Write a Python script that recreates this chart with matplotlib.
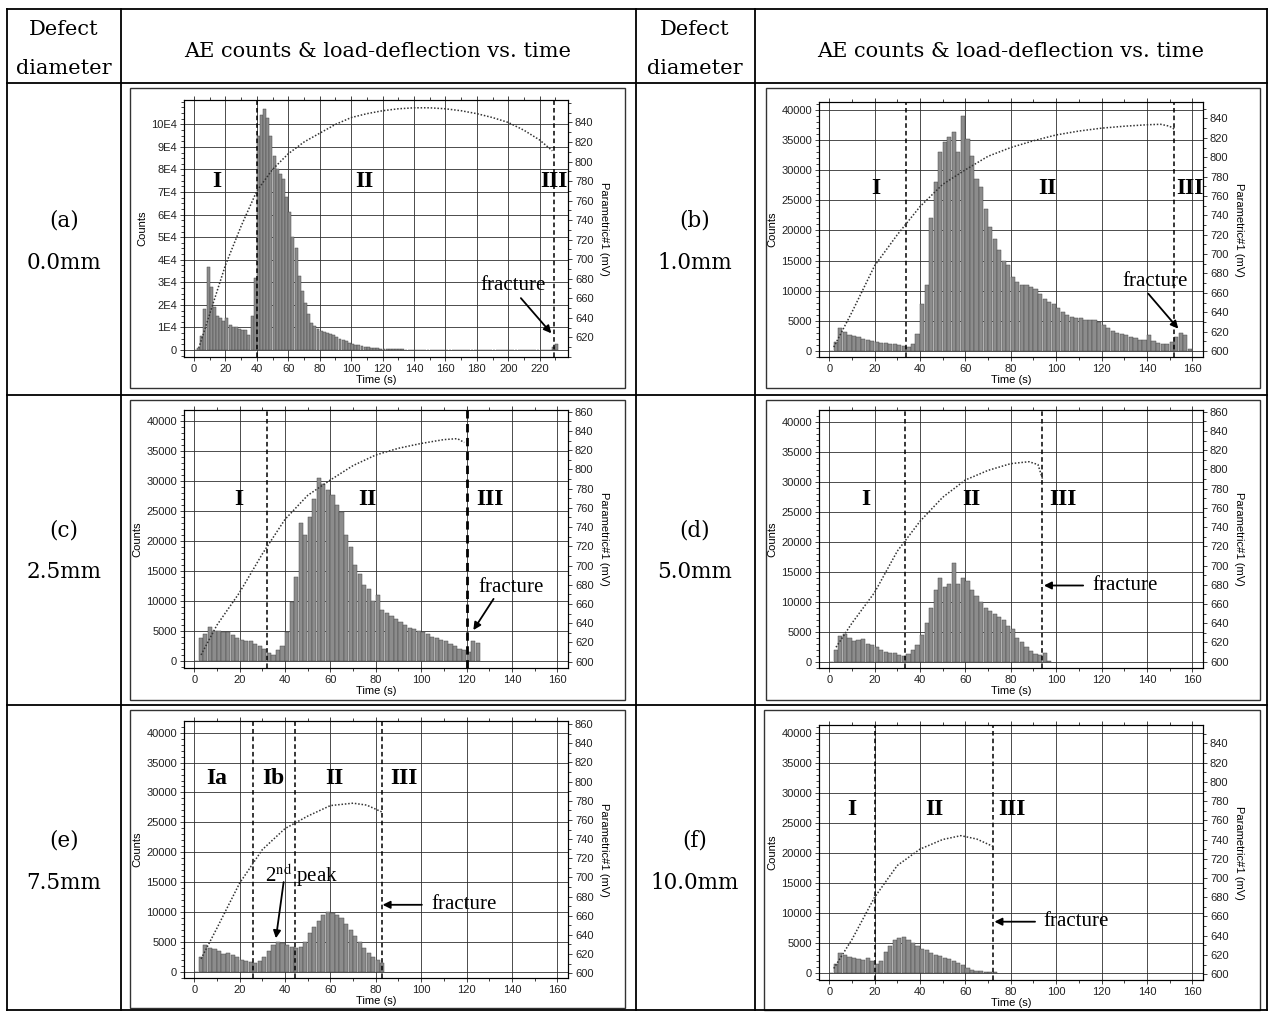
import matplotlib
matplotlib.use("Agg")
import matplotlib.pyplot as plt
import numpy as np
from matplotlib.lines import Line2D
from matplotlib.patches import Rectangle
from matplotlib.ticker import MultipleLocator, FixedLocator, FixedFormatter

plt.rcParams['font.family'] = ['Liberation Sans', 'DejaVu Sans']
plt.rcParams['mathtext.fontset'] = 'stix'

W, H = 1271, 1013
BIN = 2  # s, width of one AE count bin

# ---------------- data ----------------
row_labels = [('(a)', '0.0mm'), ('(b)', '1.0mm'), ('(c)', '2.5mm'),
              ('(d)', '5.0mm'), ('(e)', '7.5mm'), ('(f)', '10.0mm')]

# AE counts per 2 s bin, starting at t = 0
counts_a = [0, 1000, 6000, 18000, 37000, 28000, 19000, 15000, 14000, 13000,
            14000, 11000, 10000, 10000, 9500, 9000, 9000, 6500, 15000, 32000,
            95000, 104000, 107000, 103000, 95000, 86000, 80000, 78000, 76000, 68000,
            61000, 50000, 45000, 33000, 26000, 21000, 16000, 12000, 10500, 9500,
            8500, 8000, 7500, 7200, 6500, 5800, 5000, 4500, 3800, 3200,
            2800, 2400, 2000, 1700, 1400, 1200, 1000, 800, 700, 600,
            500, 450, 400, 350, 300, 280, 250, 220, 200, 180,
            160, 150, 140, 130, 120, 110, 100, 100, 90, 90,
            80, 80, 80, 70, 70, 70, 60, 60, 60, 60,
            50, 50, 50, 50, 50, 50, 40, 40, 40, 40,
            40, 40, 30, 30, 30, 30, 30, 30, 30, 30,
            30, 30, 30, 30, 1200, 2500]
counts_b = [0, 1500, 3800, 3200, 2700, 2500, 2300, 2000, 1900, 1700,
            1500, 1400, 1300, 1200, 1100, 1000, 900, 600, 1200, 2800,
            7800, 11000, 22000, 28000, 33000, 34600, 35500, 36300, 33000, 39000,
            35200, 32400, 28500, 27200, 23600, 20500, 18500, 16700, 15000, 14200,
            12300, 11500, 10900, 10900, 10600, 10300, 9500, 8700, 8200, 7800,
            7200, 6400, 5900, 5600, 5500, 5400, 5200, 5100, 5100, 4800,
            4300, 3800, 3300, 3000, 2800, 2600, 2400, 2100, 1900, 1800,
            2700, 1600, 1300, 1200, 1100, 1500, 2300, 2900, 2700, 300]
counts_c = [0, 3700, 4500, 5600, 5000, 5000, 4800, 4700, 4300, 3800,
            3500, 3300, 3200, 2800, 2400, 2000, 1200, 1000, 1800, 2500,
            4800, 9800, 14000, 23000, 21000, 24000, 27000, 30400, 29500, 28500,
            27600, 26000, 24800, 21000, 19000, 16000, 14500, 12600, 12000, 10000,
            10900, 8500, 8000, 7500, 7000, 6500, 6000, 5500, 5200, 5000,
            4800, 4400, 4000, 3800, 3500, 3200, 2800, 2400, 2000, 1700,
            1500, 3300, 3000]
counts_d = [0, 2000, 4300, 4600, 4000, 3500, 3600, 3800, 3000, 2800,
            2500, 2000, 1700, 1500, 1400, 1200, 1000, 1300, 2000, 2800,
            4500, 6500, 9000, 12000, 14000, 12500, 13000, 16500, 13000, 14000,
            13500, 12000, 11000, 10000, 9000, 8500, 8000, 7500, 7000, 6000,
            5500, 4000, 3300, 2500, 1800, 1300, 1100, 1500, 200]
counts_e = [0, 2500, 4500, 4000, 3800, 3500, 3000, 3200, 2800, 2500,
            2000, 1800, 1700, 1500, 1800, 2500, 3500, 4500, 5000, 4800,
            4500, 4200, 4000, 4200, 5000, 6500, 7500, 8500, 9500, 10000,
            9800, 9500, 9000, 8000, 7000, 6000, 5000, 4000, 3200, 2500,
            2000, 1500]
counts_f = [0, 1500, 3300, 3000, 2700, 2500, 2300, 2200, 2500, 2000,
            1500, 2000, 3500, 4500, 5500, 5800, 6000, 5500, 5000, 4500,
            4000, 3800, 3400, 3000, 2800, 2600, 2400, 2000, 1700, 1300,
            900, 600, 400, 300, 200, 200, 150]

# load (Parametric#1, mV) vs time
load_t_a = [3, 10, 20, 30, 40, 50, 60, 70, 80, 90, 100, 110, 120, 130, 140, 150,
            160, 170, 180, 190, 200, 210, 220, 228]
load_mv_a = [609, 644, 694, 734, 770, 792, 808, 820, 829, 838, 845, 849, 852, 854, 855, 855,
             854, 852, 849, 845, 840, 832, 822, 811]
load_t_b = [2, 10, 20, 30, 40, 50, 60, 70, 80, 90, 100, 110, 120, 130, 140, 146, 150, 152]
load_mv_b = [604, 640, 688, 720, 749, 772, 787, 801, 810, 817, 823, 827, 830, 832, 833.5, 834, 832, 829]
load_t_c = [3, 10, 20, 30, 40, 50, 60, 70, 80, 90, 100, 110, 116, 119]
load_mv_c = [607, 638, 672, 712, 748, 773, 789, 804, 815, 822, 827, 831, 832, 828]
load_t_d = [3, 10, 20, 30, 40, 50, 60, 70, 80, 88, 92, 94]
load_mv_d = [615, 640, 672, 715, 746, 771, 789, 799, 806, 808, 805, 790]
load_t_e = [3, 10, 20, 30, 40, 50, 60, 70, 76, 83]
load_mv_e = [615, 647, 694, 729, 751, 764, 775, 777.5, 775.5, 768]
load_t_f = [2, 10, 20, 30, 40, 50, 58, 65, 72]
load_mv_f = [606, 636, 680, 713, 730, 740, 744, 740.5, 733]

# stage boundaries (s) and stage names
bounds_a = [40, 229]
bounds_b = [34, 152]
bounds_c = [32, 120]
bounds_d = [33.6, 93.7]
bounds_e = [26, 44.2, 82.7]
bounds_f = [20.1, 72.3]
stages_a = ['I', 'II', 'III']
stages_b = ['I', 'II', 'III']
stages_c = ['I', 'II', 'III']
stages_d = ['I', 'II', 'III']
stages_e = ['Ia', 'Ib', 'II', 'III']
stages_f = ['I', 'II', 'III']

fig = plt.figure(figsize=(W / 100, H / 100), dpi=100)


def fx(x):
    return x / W


def fy(y):
    return 1 - y / H


def line(x0, y0, x1, y1, lw=1.2, color='k'):
    fig.add_artist(Line2D([fx(x0), fx(x1)], [fy(y0), fy(y1)],
                          transform=fig.transFigure, color=color, lw=lw))


# ---------------- table frame ----------------
L, R, T, B = 7, 1267, 9, 1010
for x in [L, 121, 636, 755, R]:
    line(x, T, x, B, lw=1.3)
for y in [T, 83, 395, 705, B]:
    line(L, y, R, y, lw=1.3)

serif_tab = ['DejaVu Serif']
for xc in [64, 695]:
    fig.text(fx(xc), fy(35), 'Defect', family=serif_tab, fontsize=15, ha='center', va='baseline')
    fig.text(fx(xc), fy(74), 'diameter', family=serif_tab, fontsize=15, ha='center', va='baseline')
for xc in [378, 1011]:
    fig.text(fx(xc), fy(57), 'AE counts & load-deflection vs. time', family=serif_tab,
             fontsize=15, ha='center', va='baseline')

row_base = [(226, 269), (536, 578), (846, 889)]
for i, (lab, dia) in enumerate(row_labels):
    xc = 64 if i % 2 == 0 else 695
    y1, y2 = row_base[i // 2]
    fig.text(fx(xc), fy(y1), lab, family=serif_tab, fontsize=15.5, ha='center', va='baseline')
    fig.text(fx(xc), fy(y2), dia, family=serif_tab, fontsize=15.5, ha='center', va='baseline')


# ---------------- panels ----------------
def panel(box, plot, counts, lt, lmv, bounds, stages, stage_xy, frac, xlim, ylim, mvlim,
          big=False, bound_lw=None):
    bl, bt, br, bb = box
    fig.add_artist(Rectangle((fx(bl), fy(bb)), (br - bl) / W, (bb - bt) / H,
                             transform=fig.transFigure, fill=False, ec='#333333', lw=1.0))
    pl, pt, pr, pb = plot
    ax = fig.add_axes([fx(pl), fy(pb), (pr - pl) / W, (pb - pt) / H])
    t = np.arange(len(counts)) * BIN
    ax.bar(t, counts, width=BIN * 0.92, align='edge', color='#8c8c8c', edgecolor='#4a4a4a',
           lw=0.35, zorder=2)
    ax.set_xlim(*xlim)
    ax.set_ylim(*ylim)
    ax.xaxis.set_major_locator(MultipleLocator(20))
    ax.xaxis.set_minor_locator(MultipleLocator(10))
    if big:
        ticks = list(range(0, 100001, 10000))
        ax.yaxis.set_major_locator(FixedLocator(ticks))
        ax.yaxis.set_major_formatter(FixedFormatter(['0'] + ['%dE4' % k for k in range(1, 11)]))
        ax.yaxis.set_minor_locator(MultipleLocator(2500))
    else:
        ax.yaxis.set_major_locator(MultipleLocator(5000))
        ax.yaxis.set_minor_locator(MultipleLocator(1000))
    ax.grid(True, which='major', color='#2e2e2e', lw=0.6, zorder=1.5)
    ax.tick_params(which='both', direction='out', top=True, labelsize=8, width=0.6,
                   colors='#222222', pad=2)
    ax.tick_params(which='major', length=3)
    ax.tick_params(which='minor', length=2)
    for s in ax.spines.values():
        s.set_linewidth(0.8)
    ax.set_ylabel('Counts', fontsize=8, labelpad=3)
    ax.set_xlabel('Time (s)', fontsize=8, labelpad=1)

    ax2 = ax.twinx()
    ax2.plot(lt, lmv, ls=(0, (1, 1.2)), color='#333333', lw=1.1, zorder=3)
    ax2.set_ylim(*mvlim)
    if big:
        ax2.yaxis.set_major_locator(FixedLocator(list(range(620, 841, 20))))
    else:
        ax2.yaxis.set_major_locator(MultipleLocator(20))
    ax2.yaxis.set_minor_locator(MultipleLocator(10))
    ax2.tick_params(which='both', direction='out', labelsize=8, width=0.6, colors='#222222', pad=2)
    ax2.tick_params(which='major', length=3)
    ax2.tick_params(which='minor', length=2)
    ax2.set_ylabel('Parametric#1 (mV)', fontsize=8, rotation=270, labelpad=11)

    lws = bound_lw or [1.1] * len(bounds)
    for b, w in zip(bounds, lws):
        ax.axvline(b, color='k', ls=(0, (3, 2)), lw=w, zorder=4)
    for name, (sx, sy) in zip(stages, stage_xy):
        ax.text(sx, sy, name, family=['Liberation Serif'], fontweight='bold', fontsize=17,
                ha='center', va='center', zorder=6)
    (tx, ty), tail, tip = frac
    ax.text(tx, ty, 'fracture', family=['Liberation Serif'], fontsize=15,
            ha='center', va='center', zorder=6)
    ax.annotate('', xy=tip, xytext=tail, zorder=6,
                arrowprops=dict(arrowstyle='-|>', color='k', lw=1.3, mutation_scale=11,
                                shrinkA=0, shrinkB=0))
    return ax, ax2


XL = (-4.5, 164.7)
axa, _ = panel((130, 88, 625, 388), (184, 100, 568, 357), counts_a, load_t_a, load_mv_a,
               bounds_a, stages_a, [(14.4, 74500), (108.7, 74500), (229, 74500)],
               ((203, 28800), (208, 23000), (227.4, 7400)),
               (-6.4, 238), (-3100, 110800), (599.8, 863), big=True)
panel((766, 88, 1260, 388), (819, 102, 1203, 357), counts_b, load_t_b, load_mv_b,
      bounds_b, stages_b, [(20.6, 26900), (96, 26900), (159, 26900)],
      ((143.5, 11500), (140.6, 9500), (153.8, 3700)),
      XL, (-1000, 41300), (593.8, 857))
panel((130, 400, 625, 700), (184, 410, 568, 668), counts_c, load_t_c, load_mv_c,
      bounds_c, stages_c, [(19.5, 26900), (76.5, 26900), (130.4, 26900)],
      ((139.6, 12200), (131.9, 10300), (123, 5100)),
      XL, (-1217, 41780), (593.4, 861.8), bound_lw=[1.1, 2.0])
panel((766, 400, 1260, 700), (819, 410, 1203, 668), counts_d, load_t_d, load_mv_d,
      bounds_d, stages_d, [(16.2, 27100), (62.7, 27100), (103, 27100)],
      ((130.2, 12700), (111.9, 12700), (94.6, 12700)),
      XL, (-1050, 41950), (593.4, 861.8))
axe, _ = panel((130, 710, 625, 1008), (184, 721, 568, 978), counts_e, load_t_e, load_mv_e,
               bounds_e, stages_e, [(10, 32400), (35, 32400), (61.8, 32400), (92.2, 32400)],
               ((119, 11200), (100.3, 11200), (83, 11200)),
               XL, (-1050, 41960), (595, 863.3))
panel((764, 710, 1260, 1010), (819, 725, 1203, 980), counts_f, load_t_f, load_mv_f,
      bounds_f, stages_f, [(9.9, 27300), (46.2, 27300), (80.4, 27300)],
      ((109, 8600), (90.7, 8600), (72.8, 8600)),
      XL, (-1117, 41380), (594, 859))

# second peak note in (e)
axe.text(47.4, 16200, r'2$^{\mathrm{nd}}$ peak', family=['Liberation Serif'], fontsize=15,
         ha='center', va='center', zorder=6)
axe.annotate('', xy=(36, 5600), xytext=(39.4, 15000), zorder=6,
             arrowprops=dict(arrowstyle='-|>', color='k', lw=1.3, mutation_scale=11,
                             shrinkA=0, shrinkB=0))

fig.savefig('out.png', dpi=100)
